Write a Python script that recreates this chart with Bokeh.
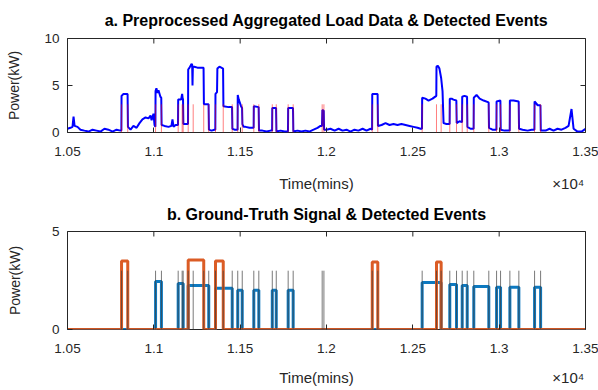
import math
from bokeh.plotting import figure
from bokeh.layouts import column
from bokeh.models import FixedTicker, LinearAxis, Range1d
from bokeh.embed import file_html
from bokeh.resources import INLINE

FONT = "Liberation Sans"
TXT = "#262626"

# ---------------- data ----------------
x_ticks = [10500, 11000, 11500, 12000, 12500, 13000, 13500]
x_tick_labels = ["1.05", "1.1", "1.15", "1.2", "1.25", "1.3", "1.35"]
top_y_ticks = [0, 5, 10]
bot_y_ticks = [0, 5]

agg_t = [10500, 10517, 10529, 10535, 10541, 10558, 10575, 10598, 10622, 10645, 10668, 10691, 10714, 10737, 10761, 10784, 10807,
         10812, 10813, 10824, 10848, 10850, 10865, 10882, 10900, 10917, 10934, 10952, 10969, 10981, 10987, 10998, 11004, 11009,
         11010, 11015, 11021, 11027, 11038, 11043, 11045, 11062, 11085, 11102, 11108, 11114, 11126, 11140,
         11141, 11158, 11164, 11167, 11169, 11171, 11187, 11198,
         11199, 11207, 11218, 11222, 11224, 11226, 11234, 11252, 11275, 11288, 11290, 11317, 11319, 11334, 11351, 11356,
         11357, 11366, 11368, 11380, 11401, 11403, 11433, 11453, 11455, 11467, 11485,
         11486, 11492, 11505, 11511, 11513, 11520, 11531, 11554, 11578,
         11579, 11607, 11609, 11629, 11653, 11676, 11685,
         11686, 11708, 11710, 11734, 11757, 11777,
         11778, 11806, 11808, 11832, 11855, 11878, 11901, 11925, 11948, 11965, 11974,
         11976, 11984, 11986, 12000, 12023, 12047, 12070, 12093, 12116, 12139, 12162, 12185, 12209, 12232, 12255, 12264,
         12265, 12296, 12298, 12319, 12342, 12365, 12388, 12411, 12434, 12458, 12481, 12504, 12527, 12545, 12553,
         12554, 12573, 12591, 12614, 12636, 12637, 12645, 12654, 12664, 12672, 12678, 12695, 12713,
         12714, 12725, 12735, 12752, 12754, 12770, 12785,
         12786, 12799, 12814, 12816, 12834, 12852,
         12853, 12869, 12887, 12910, 12939, 12941, 12961, 12984,
         12985, 13007, 13009, 13031, 13061,
         13062, 13083, 13113, 13115, 13136, 13165, 13188, 13204,
         13205, 13223, 13239, 13241, 13269, 13292, 13315, 13338, 13361, 13384, 13402, 13419, 13431, 13454, 13477, 13494, 13500]
agg_kw = [0.4, 0.5, 0.6, 1.7, 0.7, 0.6, 0.3, 0.2, 0.1, 0.3, 0.2, 0.1, 0.4, 0.3, 0.1, 0.3, 0.2,
          0.2, 3.9, 4.1, 4.1, 0.6, 0.3, 0.7, 0.5, 1.0, 1.4, 1.6, 1.5, 1.8, 1.3, 2.0, 0.8, 0.6,
          4.4, 4.7, 4.2, 4.5, 3.8, 3.7, 0.8, 0.7, 0.6, 0.7, 1.4, 0.6, 0.8, 0.8,
          3.5, 3.5, 4.1, 3.6, 3.6, 0.9, 0.9, 0.9,
          6.7, 6.9, 7.3, 7.2, 5.0, 7.0, 7.0, 6.9, 6.9, 6.9, 3.0, 3.0, 0.3, 0.2, 0.3, 0.3,
          4.1, 4.3, 6.8, 7.0, 6.8, 2.8, 2.7, 2.7, 0.4, 0.3, 0.3,
          4.0, 3.5, 2.8, 2.6, 0.9, 0.6, 0.6, 0.5, 0.5,
          2.8, 2.7, 0.2, 0.2, 0.1, 0.2, 0.2,
          2.6, 2.6, 0.1, 0.2, 0.1, 0.1,
          2.6, 2.6, 0.1, 0.2, 0.1, 0.2, 0.1, 0.3, 0.5, 0.7, 0.7,
          2.4, 2.3, 0.3, 0.3, 0.4, 0.2, 0.4, 0.2, 0.3, 0.1, 0.3, 0.2, 0.4, 0.2, 0.4, 0.3,
          4.1, 4.1, 0.7, 0.8, 1.0, 0.8, 0.9, 0.8, 0.9, 0.8, 0.7, 0.6, 0.5, 0.4, 0.4,
          3.7, 3.6, 3.4, 3.6, 3.9, 7.0, 7.1, 6.8, 5.8, 4.4, 1.0, 0.9, 0.9,
          3.6, 3.6, 3.5, 3.4, 1.0, 1.2, 1.1,
          3.8, 3.9, 3.8, 0.6, 0.4, 0.4,
          3.7, 4.0, 3.6, 3.4, 3.2, 0.5, 0.3, 0.3,
          3.3, 3.4, 0.3, 0.2, 0.2,
          3.4, 3.4, 3.3, 0.4, 0.3, 0.2, 0.3, 0.3,
          3.3, 2.9, 2.9, 0.2, 0.2, 0.4, 0.2, 0.4, 0.3, 0.5, 0.7, 2.5, 0.4, 0.1, 0.1, 0.3, 0.4]

event_t = [10813, 10849, 11010, 11044, 11141, 11164, 11170, 11199, 11228, 11289, 11318, 11357, 11402, 11454,
           11486, 11512, 11579, 11608, 11686, 11709, 11778, 11807, 11975, 11985, 12265, 12297, 12554, 12637,
           12664, 12714, 12753, 12786, 12815, 12853, 12940, 12985, 13008, 13062, 13114, 13205, 13240]
event_kw = 3.0

orange_on = [10813, 11199, 11357, 12265, 12637]
orange_off = [10849, 11289, 11402, 12297, 12664]
orange_kw = [3.5, 3.55, 3.5, 3.45, 3.45]

blue_on = [11010, 11141, 11199, 11357, 11486, 11579, 11686, 11778, 12554, 12714, 12786, 12853, 12985, 13062, 13205]
blue_off = [11044, 11170, 11318, 11454, 11512, 11608, 11709, 11807, 12664, 12753, 12815, 12940, 13008, 13114, 13240]
blue_kw = [2.45, 2.35, 2.25, 2.1, 2.0, 2.0, 2.0, 2.0, 2.4, 2.3, 2.25, 2.2, 2.15, 2.15, 2.15]

X0, X1 = 10500, 13500
XLABEL_AT = 11942      # where "Time(mins)" is centred (axis units)
EXP_AT = 13400         # where the "×10⁴" multiplier is centred


def steps(on, off, lev):
    xs, ys = [X0], [0.0]
    for a, b, v in zip(on, off, lev):
        xs += [a, a, b, b]
        ys += [0.0, v, v, 0.0]
    xs.append(X1)
    ys.append(0.0)
    return xs, ys


def make_fig(title, y_max, y_ticks, h, top, fh, ylab_standoff, lab_standoff, title_standoff):
    p = figure(width=598, height=h, x_range=Range1d(X0, X1), y_range=Range1d(0, y_max),
               output_backend="svg", toolbar_location=None,
               min_border_left=67, min_border_right=13, min_border_top=top,
               min_border_bottom=h - top - fh)
    p.background_fill_color = "white"
    p.border_fill_color = "white"
    p.grid.visible = False
    p.outline_line_color = TXT
    p.outline_line_width = 1
    p.outline_line_alpha = 1

    p.title.text = title
    p.title.align = "center"
    p.title.text_font = FONT
    p.title.text_font_size = "16px"
    p.title.text_font_style = "bold"
    p.title.text_color = "black"
    p.title.standoff = title_standoff

    ax = p.xaxis[0]
    ax.ticker = FixedTicker(ticks=x_ticks)
    ax.major_label_overrides = {t: s for t, s in zip(x_ticks, x_tick_labels)}
    ax.major_label_standoff = 14
    ay = p.yaxis[0]
    ay.ticker = FixedTicker(ticks=y_ticks)
    ay.axis_label = "Power(kW)"
    ay.axis_label_standoff = ylab_standoff
    ay.major_label_standoff = 8

    # second "below" axis carrying the axis title and the x10^4 multiplier
    lab_ax = LinearAxis(ticker=FixedTicker(ticks=[XLABEL_AT, EXP_AT]),
                        major_label_overrides={XLABEL_AT: "Time(mins)", EXP_AT: "×10⁴"})
    p.add_layout(lab_ax, "below")
    lab_ax.axis_line_alpha = 0
    lab_ax.major_tick_line_alpha = 0
    lab_ax.major_tick_in = 0
    lab_ax.major_tick_out = 0
    lab_ax.minor_tick_line_alpha = 0
    lab_ax.major_label_standoff = lab_standoff
    lab_ax.major_label_text_font = FONT
    lab_ax.major_label_text_font_size = "15px"
    lab_ax.major_label_text_color = TXT

    for a in [ax, ay]:
        a.axis_line_alpha = 0
        a.major_tick_in = 5
        a.major_tick_out = 0
        a.major_tick_line_color = TXT
        a.minor_tick_line_alpha = 0
        a.major_label_text_font = FONT
        a.major_label_text_font_size = "13.5px"
        a.major_label_text_color = TXT
        a.axis_label_text_font = FONT
        a.axis_label_text_font_size = "14px"
        a.axis_label_text_font_style = "normal"
        a.axis_label_text_color = TXT

    # box ticks on the top and right edges (half of each dash is clipped by the frame)
    p.scatter(x=x_ticks, y=[y_max] * len(x_ticks), marker="dash", size=10, angle=math.pi / 2,
              line_color=TXT, line_width=1)
    p.scatter(x=[X1] * len(y_ticks), y=y_ticks, marker="dash", size=10,
              line_color=TXT, line_width=1)
    return p


# ---------------- top panel ----------------
p1 = make_fig("a. Preprocessed Aggregated Load Data & Detected Events", 10, top_y_ticks,
              195, 37, 95, 19, 16, 19)
p1.line(agg_t, agg_kw, line_color="#0000ff", line_width=2)
p1.segment(x0=event_t, y0=[0] * len(event_t), x1=event_t, y1=[event_kw] * len(event_t),
           line_color="#ff0000", line_alpha=0.5, line_width=1)

# ---------------- bottom panel ----------------
p2 = make_fig("b. Ground-Truth Signal & Detected Events", 5, bot_y_ticks,
              195, 36, 98, 26, 13, 17)
bx, by = steps(blue_on, blue_off, blue_kw)
ox, oy = steps(orange_on, orange_off, orange_kw)
p2.line(bx, by, line_color="#0072bd", line_width=3, line_alpha=0.95)
p2.line(ox, oy, line_color="#d95319", line_width=3, line_alpha=0.95)
p2.segment(x0=event_t, y0=[0] * len(event_t), x1=event_t, y1=[event_kw] * len(event_t),
           line_color="#404040", line_alpha=0.7, line_width=1)

layout = column(p1, p2, spacing=0)
open("out.html", "w").write(file_html(layout, INLINE))
